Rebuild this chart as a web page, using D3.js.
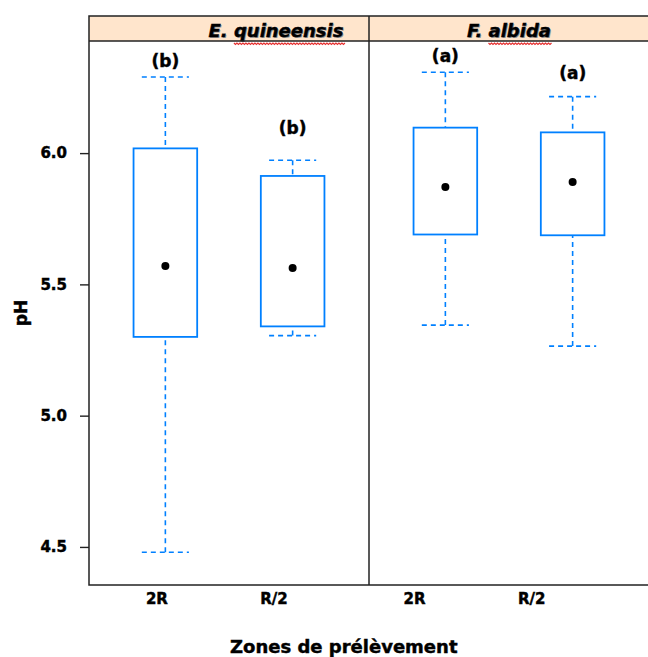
<!DOCTYPE html>
<html>
<head>
<meta charset="utf-8">
<script src="https://cdn.jsdelivr.net/npm/d3@7"></script>
<style>
  body { margin: 0; background: #fff; }
  text { font-family: "DejaVu Sans", Verdana, sans-serif; font-weight: bold; }
  .heavy { stroke: #000; stroke-width: 0.45px; }
</style>
</head>
<body>
<div id="chart"></div>
<script>
// data: order is E.2R, E.R/2, F.2R, F.R/2
const species = ["E. quineensis", "F. albida"];
const zones = ["2R", "R/2"];
const whiskerLow = [4.48, 5.305, 5.345, 5.265];
const q1 = [5.30, 5.34, 5.69, 5.687];
const median = [5.57, 5.562, 5.871, 5.89];
const q3 = [6.018, 5.913, 6.097, 6.079];
const whiskerHigh = [6.29, 5.973, 6.308, 6.215];
const letters = ["(b)", "(b)", "(a)", "(a)"];
const letterAt = [6.351, 6.097, 6.368, 6.304];
const yTicks = [4.5, 5.0, 5.5, 6.0];

const width = 648;
const height = 657;
const plotLeft = 89;
const panelW = 280;
const stripTop = 16;
const plotTop = 41;
const plotBottom = 585;
const blue = "#0080ff";
const ink = "#222";
const dash = "5,4";

const rows = [];
species.forEach((s, i) => {
  zones.forEach((z, j) => {
    const k = i * zones.length + j;
    rows.push({
      species: s, zone: z, lo: whiskerLow[k], q1: q1[k], med: median[k],
      q3: q3[k], hi: whiskerHigh[k], letter: letters[k], letterAt: letterAt[k]
    });
  });
});

const svg = d3.select("#chart").append("svg")
  .attr("width", width)
  .attr("height", height);

const y = d3.scaleLinear().domain([4.355, 6.427]).range([plotBottom, plotTop]);

// tick labels sit slightly left of the boxes in the reference
const shift = d3.scaleLinear().domain([0, width]).range([4.3, 4.3 + 0.92 * width]);

const stripOffset = [47, 0];

species.forEach((sp, i) => {
  const x0 = plotLeft + i * panelW;
  const x = d3.scalePoint().domain(zones).range([0, panelW]).padding(0.6);
  const boxW = x.step() * 0.5;
  const capW = x.step() * 0.37;

  const g = svg.append("g").attr("transform", `translate(${x0},0)`);

  // strip
  g.append("rect")
    .attr("x", 0).attr("y", stripTop)
    .attr("width", panelW).attr("height", plotTop - stripTop)
    .attr("fill", "#ffe5cc");

  const tx = panelW / 2 + stripOffset[i];
  g.append("text")
    .attr("x", tx + 1).attr("y", 37.5)
    .attr("text-anchor", "middle")
    .attr("font-size", 18)
    .attr("font-style", "italic")
    .attr("fill", "#999")
    .text(sp);
  const label = g.append("text")
    .attr("class", "heavy")
    .attr("x", tx).attr("y", 36.5)
    .attr("text-anchor", "middle")
    .attr("font-size", 18)
    .attr("font-style", "italic")
    .attr("fill", "#000")
    .text(sp);

  // spell-check squiggle under the second word
  const node = label.node();
  const sx = node.getStartPositionOfChar(3).x;
  const ex = node.getEndPositionOfChar(sp.length - 1).x;
  let d = `M${sx},43`;
  for (let p = sx, k = 0; p < ex; p += 1.5, k++) {
    d += `L${p + 1.5},${k % 2 ? 43 : 44.5}`;
  }
  g.append("path").attr("d", d).attr("fill", "none")
    .attr("stroke", "#e53030").attr("stroke-width", 1.2);

  const data = rows.filter((r) => r.species === sp);
  const box = g.selectAll("g.box").data(data).enter().append("g")
    .attr("class", "box")
    .attr("transform", (r) => `translate(${x(r.zone)},0)`);

  // whiskers
  box.append("line")
    .attr("y1", (r) => y(r.hi)).attr("y2", (r) => y(r.q3))
    .attr("stroke", blue).attr("stroke-width", 1.6)
    .attr("stroke-dasharray", dash);
  box.append("line")
    .attr("y1", (r) => y(r.lo)).attr("y2", (r) => y(r.q1))
    .attr("stroke", blue).attr("stroke-width", 1.6)
    .attr("stroke-dasharray", dash);
  box.append("line")
    .attr("x1", -capW / 2).attr("x2", capW / 2)
    .attr("y1", (r) => y(r.hi)).attr("y2", (r) => y(r.hi))
    .attr("stroke", blue).attr("stroke-width", 1.6)
    .attr("stroke-dasharray", dash);
  box.append("line")
    .attr("x1", -capW / 2).attr("x2", capW / 2)
    .attr("y1", (r) => y(r.lo)).attr("y2", (r) => y(r.lo))
    .attr("stroke", blue).attr("stroke-width", 1.6)
    .attr("stroke-dasharray", dash);

  box.append("rect")
    .attr("x", -boxW / 2).attr("width", boxW)
    .attr("y", (r) => y(r.q3))
    .attr("height", (r) => y(r.q1) - y(r.q3))
    .attr("fill", "none")
    .attr("stroke", blue).attr("stroke-width", 1.8);

  box.append("circle")
    .attr("cy", (r) => y(r.med))
    .attr("r", 4)
    .attr("fill", "#000");

  box.append("text")
    .attr("class", "heavy")
    .attr("y", (r) => y(r.letterAt))
    .attr("dy", "0.35em")
    .attr("text-anchor", "middle")
    .attr("font-size", 17)
    .text((r) => r.letter);

  // x tick labels
  const xl = d3.scalePoint().domain(zones)
    .range([shift(x0), shift(x0 + panelW)]).padding(0.6);
  const ax = svg.append("g")
    .attr("transform", `translate(0,${plotBottom})`)
    .call(d3.axisBottom(xl).tickSize(0).tickPadding(8));
  ax.select(".domain").remove();
  ax.selectAll("text").attr("font-size", 15).attr("fill", "#000")
    .attr("class", "heavy")
    .attr("font-family", "DejaVu Sans").attr("font-weight", "bold");
});

// frame
svg.append("rect")
  .attr("x", plotLeft).attr("y", stripTop)
  .attr("width", panelW * 2).attr("height", plotBottom - stripTop)
  .attr("fill", "none").attr("stroke", ink).attr("stroke-width", 1.5);
svg.append("line")
  .attr("x1", plotLeft).attr("x2", plotLeft + panelW * 2)
  .attr("y1", plotTop).attr("y2", plotTop)
  .attr("stroke", ink).attr("stroke-width", 1.5);
svg.append("line")
  .attr("x1", plotLeft + panelW).attr("x2", plotLeft + panelW)
  .attr("y1", stripTop).attr("y2", plotBottom)
  .attr("stroke", ink).attr("stroke-width", 1.5);

// y axis
const ay = svg.append("g")
  .attr("transform", `translate(${plotLeft},0)`)
  .call(d3.axisLeft(y).tickValues(yTicks).tickFormat(d3.format(".1f"))
    .tickSize(9).tickPadding(13));
ay.select(".domain").remove();
ay.selectAll("line").attr("stroke", ink).attr("stroke-width", 1.4);
ay.selectAll("text").attr("font-size", 15).attr("fill", "#000")
  .attr("class", "heavy")
  .attr("font-family", "DejaVu Sans").attr("font-weight", "bold");

svg.append("text")
  .attr("class", "heavy")
  .attr("transform", `translate(27,${(plotTop + plotBottom) / 2}) rotate(-90)`)
  .attr("text-anchor", "middle")
  .attr("font-size", 17)
  .text("pH");

svg.append("text")
  .attr("class", "heavy")
  .attr("x", shift(plotLeft + panelW))
  .attr("y", 653)
  .attr("text-anchor", "middle")
  .attr("font-size", 18)
  .text("Zones de prélèvement");
</script>
</body>
</html>
